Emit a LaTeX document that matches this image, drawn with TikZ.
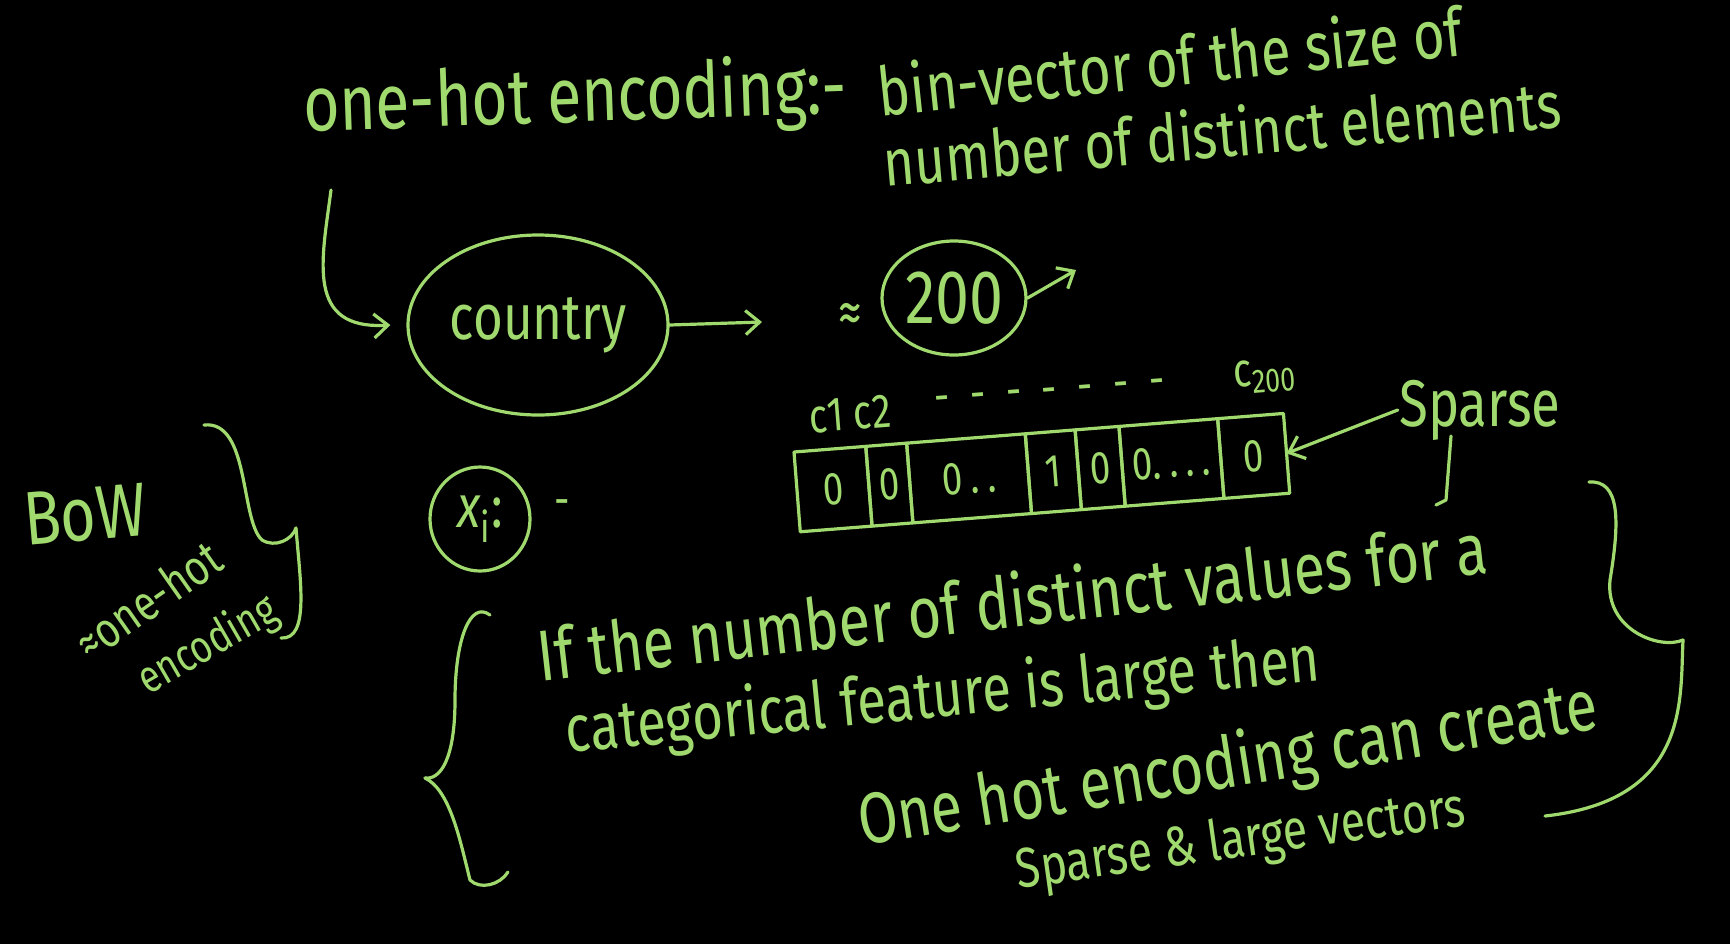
\documentclass[tikz,border=0pt]{standalone}
\usepackage{fontspec}
\newfontfamily\hw[FakeStretch=0.8]{Fira Sans}
\usetikzlibrary{arrows.meta,shapes.geometric}
\definecolor{ink}{RGB}{160,218,110}
\newcommand{\hs}[1]{\hw\fontsize{#1}{#1}\selectfont}
\begin{document}
\begin{tikzpicture}[x=0.5pt,y=-0.5pt,color=ink,line width=1.6pt,line cap=round,line join=round,
  txt/.style={inner sep=0pt,text=ink},
  oval/.style={draw,ellipse,inner sep=0pt},
  cell/.style={draw,minimum height=40pt,inner sep=0pt,outer sep=0pt,transform shape,font=\hs{23}},
  arr/.style={-{Straight Barb[length=7pt,width=12pt]}}]
\fill[black] (0,0) rectangle (1730,944);
\useasboundingbox (0,0) rectangle (1730,944);
% heading
\node[txt,font=\hs{39},rotate=2] (ohe) at (575,100) {one-hot encoding:-};
\node[txt,font=\hs{34},rotate=6] (binvec) at (1170,60) {bin-vector of the size of};
\node[txt,font=\hs{33},rotate=5] (numdist) at (1222,132) {number of distinct elements};
% country
\node[oval,minimum width=130pt,minimum height=90pt] (country) at (538,325) {};
\node[txt,font=\hs{32}] (countrytxt) at (country.center) {country};
\coordinate (hookstart) at (331,190);
\draw[arr] (hookstart) .. controls (322,260) and (305,330) .. ([xshift=-8pt]country.west);
\coordinate (arrend) at (762,322);
\draw[arr] (country.east) -- (arrend);
\node[txt,font=\hs{30}] (approx) at (850,318) {≈};
\node[oval,minimum width=72pt,minimum height=57pt] (twoh) at (954,298) {};
\node[txt,font=\hs{38}] (twohtxt) at (twoh.center) {200};
\coordinate (twohend) at (1076,270);
\draw[arr] (twoh.east) -- (twohend);
% vector
\begin{scope}[shift={(794,452)},rotate=4.5]
  \node[cell,minimum width=36pt,anchor=north west] (v1) at (0,0) {0};
  \node[cell,minimum width=20.5pt,anchor=west] (v2) at (v1.east) {0};
  \node[cell,minimum width=59.5pt,anchor=west] (v3) at (v2.east) {0\,.\,.};
  \node[cell,minimum width=25pt,anchor=west] (v4) at (v3.east) {1};
  \node[cell,minimum width=22pt,anchor=west] (v5) at (v4.east) {0};
  \node[cell,minimum width=49.5pt,anchor=west] (v6) at (v5.east) {0.\,.\,.\,.};
  \node[cell,minimum width=33pt,anchor=west] (v7) at (v6.east) {0};
\end{scope}
\node[txt,font=\hs{24},rotate=4.5] (c12) at (850,414) {c1 c2};
\node[txt,font=\hs{24},rotate=4.5] (cdots) at (1050,396) {-\ \ -\ \ -\ \ -\ \ -\ \ -\ \ -};
\node[txt,font=\hs{24},rotate=4.5] (c200) at (1265,376) {c\textsubscript{200}};
\node[txt,font=\hs{33}] (sparse) at (1480,410) {Sparse};
\draw[arr] (sparse.west) -- (v7.east);
\coordinate (sp1) at (1451,436);
\coordinate (sp2) at (1446,500);
\coordinate (sp3) at (1436,505);
\draw (sp1) -- (sp2) -- (sp3);
% x_i
\node[oval,minimum width=50pt,minimum height=52pt] (xi) at (480,519) {};
\node[txt,font=\hs{30}] (xitxt) at (xi.center) {\textit{x}\textsubscript{i}:};
\node[txt,font=\hs{24}] (xidash) at (562,508) {-};
% BoW
\node[txt,font=\hs{38},rotate=5] (bow) at (85,515) {BoW};
\node[txt,font=\hs{25},rotate=35] (ohe2) at (148,600) {≈one-hot};
\node[txt,font=\hs{23},rotate=30] (enc2) at (208,646) {encoding};
\coordinate (sb1) at (204,425);
\coordinate (sb2) at (296,528);
\coordinate (sb3) at (281,638);
\draw (sb1) .. controls (250,420) and (240,520) .. (262,540) .. controls (275,548) and (292,540) .. (sb2);
\draw (sb2) .. controls (300,580) and (310,640) .. (sb3);
% paragraph
\node[txt,font=\hs{36},rotate=6.5] (p1) at (1012,600) {If the number of distinct values for a};
\node[txt,font=\hs{33},rotate=5.5] (p2) at (943,698) {categorical feature is large then};
\node[txt,font=\hs{36},rotate=9] (p3) at (1228,767) {One hot encoding can create};
\node[txt,font=\hs{28},rotate=8] (p4) at (1241,842) {Sparse \& large vectors};
% big braces
\coordinate (lb1) at (490,615);
\coordinate (lb2) at (425,778);
\coordinate (lb3) at (508,872);
\draw (lb1) .. controls (470,600) and (455,640) .. (455,700) .. controls (455,760) and (440,780) .. (lb2);
\draw (lb2) .. controls (450,790) and (460,840) .. (470,880) .. controls (480,890) and (500,885) .. (lb3);
\coordinate (rb1) at (1589,482);
\coordinate (rb2) at (1683,640);
\coordinate (rb3) at (1545,816);
\draw (rb1) .. controls (1620,480) and (1620,520) .. (1610,580) .. controls (1605,630) and (1660,650) .. (rb2);
\draw (rb2) .. controls (1680,700) and (1690,800) .. (rb3);
\end{tikzpicture}
\end{document}
